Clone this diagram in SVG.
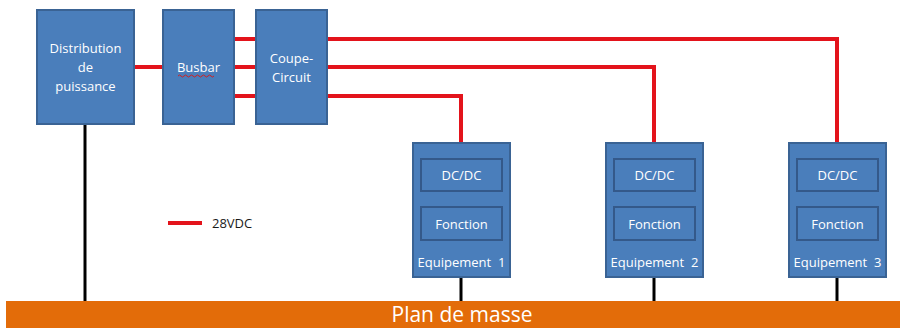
<svg xmlns="http://www.w3.org/2000/svg" width="906" height="329" viewBox="0 0 906 329">
<style>
.box{fill:#4a7ebb;stroke:#3a6394;stroke-width:2}
.inner{fill:#4a7ebb;stroke:#34598a;stroke-width:2}
.t{font-family:"Open Sans","Liberation Sans",sans-serif;font-size:13px;fill:#ffffff;text-anchor:middle;dominant-baseline:central}
.red{stroke:#e3131b;stroke-width:4;fill:none}
.blk{stroke:#000000;stroke-width:3;fill:none}
</style>
<rect width="906" height="329" fill="#ffffff"/>
<g id="connectors">
<line class="blk" x1="85" y1="124" x2="85" y2="301"/>
<line class="blk" x1="461" y1="277" x2="461" y2="301"/>
<line class="blk" x1="654" y1="277" x2="654" y2="301"/>
<line class="blk" x1="837" y1="277" x2="837" y2="301"/>
<line class="red" x1="134" y1="67" x2="163" y2="67"/>
<line class="red" x1="234" y1="39" x2="256" y2="39"/>
<line class="red" x1="234" y1="67" x2="256" y2="67"/>
<line class="red" x1="234" y1="96" x2="256" y2="96"/>
<polyline class="red" points="327,39 837,39 837,159"/>
<polyline class="red" points="327,67 654,67 654,159"/>
<polyline class="red" points="327,96 461,96 461,159"/>
</g>
<g id="distribution">
<rect class="box" x="37" y="10" width="97" height="114"/>
<text class="t" x="85.5" y="48">Distribution</text>
<text class="t" x="85.5" y="67">de</text>
<text class="t" x="85.5" y="86">puissance</text>
</g>
<g id="busbar">
<rect class="box" x="163" y="10" width="71" height="114"/>
<text class="t" x="198.5" y="67">Busbar</text>
<path d="M178,76 q1.5,-2 3,0 t3,0 t3,0 t3,0 t3,0 t3,0 t3,0 t3,0 t3,0 t3,0 t3,0 t3,0" stroke="#d02020" stroke-width="1" fill="none"/>
</g>
<g id="coupe-circuit">
<rect class="box" x="256" y="10" width="71" height="114"/>
<text class="t" x="291.5" y="58">Coupe-</text>
<text class="t" x="291.5" y="77">Circuit</text>
</g>
<g id="equipement1">
<rect class="box" x="413" y="143" width="97" height="134"/>
<rect class="inner" x="421" y="159" width="81" height="32"/>
<text class="t" x="461.5" y="175">DC/DC</text>
<rect class="inner" x="421" y="207" width="81" height="33"/>
<text class="t" x="461.5" y="224">Fonction</text>
<text class="t" x="461.5" y="262" xml:space="preserve">Equipement  1</text>
</g>
<g id="equipement2">
<rect class="box" x="606" y="143" width="97" height="134"/>
<rect class="inner" x="614" y="159" width="81" height="32"/>
<text class="t" x="654.5" y="175">DC/DC</text>
<rect class="inner" x="614" y="207" width="81" height="33"/>
<text class="t" x="654.5" y="224">Fonction</text>
<text class="t" x="654.5" y="262" xml:space="preserve">Equipement  2</text>
</g>
<g id="equipement3">
<rect class="box" x="789" y="143" width="97" height="134"/>
<rect class="inner" x="797" y="159" width="81" height="32"/>
<text class="t" x="837.5" y="175">DC/DC</text>
<rect class="inner" x="797" y="207" width="81" height="33"/>
<text class="t" x="837.5" y="224">Fonction</text>
<text class="t" x="837.5" y="262" xml:space="preserve">Equipement  3</text>
</g>
<g id="legend">
<line class="red" x1="168" y1="223" x2="202" y2="223"/>
<text x="212" y="223" font-family="'Open Sans','Liberation Sans',sans-serif" font-size="13" fill="#1a1a1a" dominant-baseline="central">28VDC</text>
</g>
<g id="plan-de-masse">
<rect x="6" y="301" width="894" height="27" fill="#e36c09"/>
<text class="t" x="462" y="314" style="font-size:21px">Plan de masse</text>
</g>
</svg>
